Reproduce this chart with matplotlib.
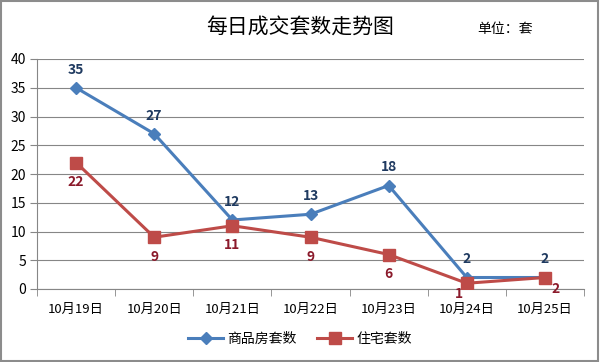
import matplotlib.pyplot as plt
from matplotlib.patches import Rectangle

plt.rcParams['font.family'] = ['Noto Sans CJK SC', 'DejaVu Sans']

days = ['10月19日', '10月20日', '10月21日', '10月22日', '10月23日', '10月24日', '10月25日']
shangpin = [35, 27, 12, 13, 18, 2, 2]
zhuzhai = [22, 9, 11, 9, 6, 1, 2]

fig = plt.figure(figsize=(6, 3.62), dpi=100)
ax = fig.add_axes([37/600, 1-289/362, 547/600, 230/362])

x = list(range(len(days)))
ax.plot(x, shangpin, color='#4A7EBB', lw=2.2, marker='D', ms=6, label='商品房套数', zorder=3)
ax.plot(x, zhuzhai, color='#BE4B48', lw=2.2, marker='s', ms=8, label='住宅套数', zorder=3)

for i, v in enumerate(shangpin):
    ax.annotate(str(v), (i, v), xytext=(0, 8), textcoords='offset points',
                ha='center', va='bottom', fontsize=10, fontweight='bold', color='#1F3A60')
# Excel nudged the last two red labels
red_off = [(0, -9), (0, -9), (0, -9), (0, -9), (0, -9), (-6, -3), (8, -3)]
for i, v in enumerate(zhuzhai):
    ax.annotate(str(v), (i, v), xytext=red_off[i], textcoords='offset points',
                ha='center', va='top', fontsize=10, fontweight='bold', color='#8B1A2B')

ax.set_xlim(-0.5, len(days) - 0.5)
ax.set_ylim(0, 40)
ax.set_yticks(range(0, 41, 5))
ax.set_xticks(x)
ax.set_xticklabels(days)
ax.set_xticks([i - 0.5 for i in range(len(days) + 1)], minor=True)
ax.tick_params(axis='x', which='major', length=0, pad=10, labelsize=9.5)
ax.tick_params(axis='x', which='minor', length=5, color='#868686')
ax.tick_params(axis='y', length=5, color='#868686', labelsize=10, pad=3)
ax.grid(axis='y', color='#868686', lw=0.8)
ax.set_axisbelow(True)
for s in ['top', 'right']:
    ax.spines[s].set_visible(False)
ax.spines['left'].set_color('#868686')
ax.spines['bottom'].set_color('#868686')

fig.text(0.5, 1-27/362, '每日成交套数走势图', ha='center', va='center', fontsize=15)
fig.text(505/600, 1-29/362, '单位：套', ha='center', va='center', fontsize=10)

fig.legend(loc='center', bbox_to_anchor=(0.5, 1-339/362), ncol=2, frameon=False,
           fontsize=10, handlelength=2.5, columnspacing=1.5, handletextpad=0.3)

fig.patches.append(Rectangle((0.002, 0.003), 0.995, 0.994, transform=fig.transFigure,
                             fill=False, ec='#8C8C8C', lw=1.5))

fig.savefig('out.png', dpi=100)
